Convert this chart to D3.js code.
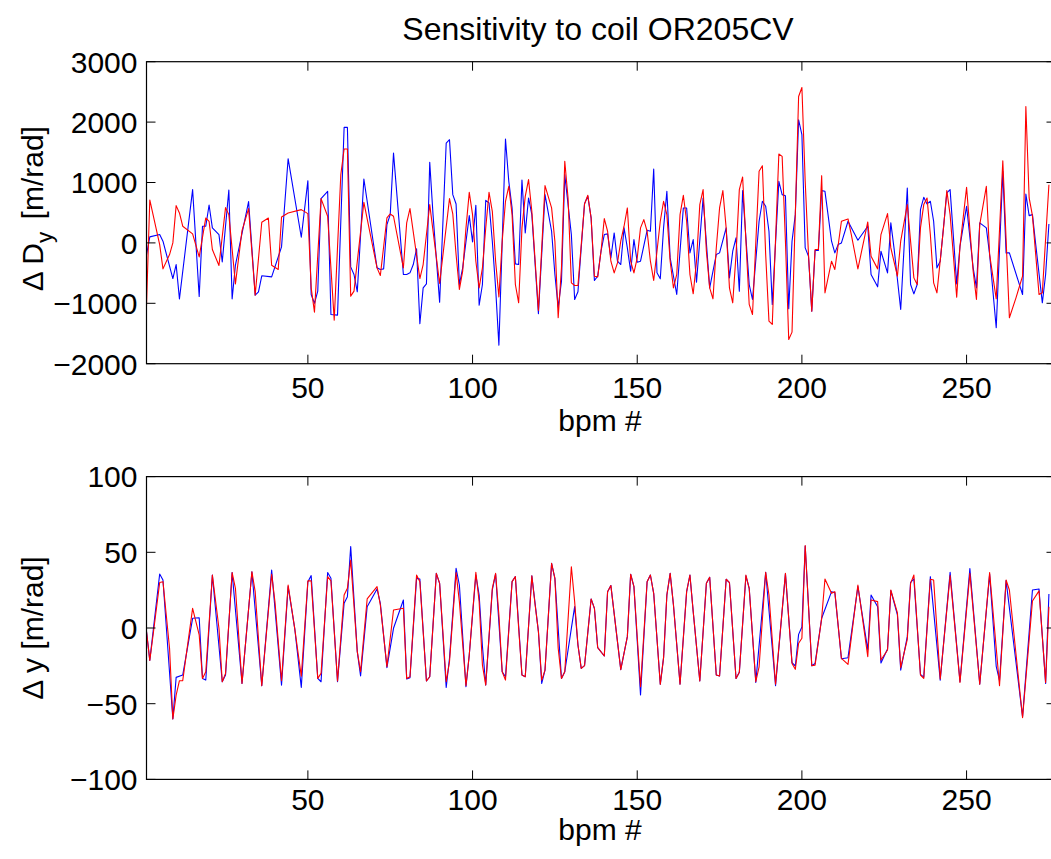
<!DOCTYPE html>
<html><head><meta charset="utf-8">
<script src="https://cdn.jsdelivr.net/npm/d3@7"></script>
<style>
body{margin:0;background:#fff;}
svg{display:block;}
text{font-family:"Liberation Sans",Arial,Helvetica,sans-serif;fill:#000;}
</style>
</head><body>
<script>
const titleText = "Sensitivity to coil OR205CV";
const xLabel = "bpm #";
const xTicks = [50,100,150,200,250];
const topYTicks = [-2000,-1000,0,1000,2000,3000];
const botYTicks = [-100,-50,0,50,100];

// Top panel: Delta D_y [m/rad], vertices [bpm, value]
const topBlue = [[1,-200],[2,100],[5,138],[6,28],[9,-590],[10,-358],[11,-926],[15,882],[17,-887],[18,276],[19,276],[20,628],[21,248],[23,138],[24,-314],[26,876],[27,-926],[28,-369],[32,683],[34,-865],[35,-810],[36,-545],[39,-562],[42,-66],[44,1394],[48,94],[50,1030],[51,-854],[52,-1000],[53,-800],[54,733],[56,854],[57,-1185],[59,-1196],[61,1912],[62,1912],[63,-397],[64,-523],[65,-810],[67,1058],[71,-413],[72,-440],[73,-430],[74,303],[75,468],[76,1488],[79,-523],[80,-523],[81,-496],[82,-358],[83,-99],[84,-1339],[85,-744],[86,-678],[87,1333],[88,468],[90,-981],[92,1653],[93,1708],[94,799],[95,645],[96,-689],[97,-413],[99,452],[100,17],[101,623],[102,-1030],[103,-689],[104,705],[105,661],[106,28],[107,-744],[108,-1692],[110,1719],[111,1019],[112,579],[113,-347],[114,-358],[115,1041],[116,165],[117,744],[118,468],[120,-1174],[122,799],[124,193],[125,-523],[126,-1063],[127,-634],[128,1130],[130,138],[131,-937],[132,-810],[134,650],[135,771],[136,413],[137,-623],[138,-551],[139,-138],[140,138],[141,149],[142,-248],[143,165],[144,-303],[145,-358],[146,248],[147,-83],[148,-468],[149,55],[150,-320],[151,-303],[153,209],[154,193],[155,1223],[156,-496],[157,-595],[158,248],[159,854],[160,-248],[162,-854],[164,579],[165,579],[166,-165],[167,55],[168,-650],[170,744],[172,-744],[174,-193],[175,-165],[177,248],[178,-579],[179,-138],[180,83],[181,-799],[182,865],[184,-689],[185,-937],[187,358],[188,689],[189,606],[190,193],[191,-1019],[193,1019],[194,799],[195,782],[196,-1091],[197,28],[198,468],[199,2039],[200,1791],[201,-83],[202,-220],[203,-1130],[204,-127],[205,-127],[206,865],[207,854],[209,28],[210,-165],[211,-28],[212,0],[214,358],[217,44],[220,276],[221,-523],[223,-727],[224,-138],[226,-496],[227,331],[228,-100],[230,-1102],[232,909],[233,-689],[234,-843],[235,-689],[236,551],[237,755],[238,645],[239,689],[240,358],[241,-413],[242,-303],[244,827],[245,882],[247,-678],[248,-55],[250,606],[252,-413],[253,-744],[254,331],[256,248],[257,-193],[259,-1405],[261,1185],[262,-165],[263,-165],[267,-854],[268,810],[269,452],[270,468],[271,-28],[273,-992],[274,-523],[275,314]];

const topRed = [[1,-1047],[2,711],[5,-28],[6,-430],[8,-193],[9,0],[10,617],[11,496],[12,276],[15,149],[17,-231],[19,413],[20,358],[21,-110],[23,-375],[25,584],[26,468],[28,-678],[30,204],[32,568],[34,-865],[36,342],[38,413],[39,-369],[41,-441],[42,430],[44,496],[48,551],[50,485],[51,-744],[52,-1146],[54,733],[56,441],[58,-1278],[60,1130],[61,1554],[62,1554],[63,-882],[64,-799],[67,672],[71,-413],[72,-540],[74,413],[75,479],[76,441],[79,-413],[80,331],[81,568],[84,-590],[85,-358],[87,634],[90,-672],[93,733],[94,479],[95,-193],[96,-771],[97,-468],[98,248],[99,837],[100,468],[101,-303],[102,-744],[103,-413],[104,248],[105,837],[106,523],[107,-303],[108,-893],[109,28],[110,689],[111,937],[112,468],[113,-689],[114,-992],[115,248],[116,771],[117,1047],[118,523],[120,-1119],[122,948],[124,579],[125,28],[126,-1240],[127,-413],[128,1350],[129,744],[130,-661],[131,-705],[132,-705],[134,645],[135,788],[136,413],[137,-551],[138,-563],[139,-138],[140,402],[141,193],[142,-303],[143,-496],[144,-331],[145,28],[146,276],[147,579],[148,-303],[149,-496],[150,-248],[151,248],[152,386],[153,193],[154,-303],[155,-623],[156,-138],[157,358],[158,689],[159,468],[160,-303],[161,-744],[162,-523],[163,468],[164,788],[165,358],[166,-523],[167,-843],[168,-303],[169,634],[170,882],[171,-138],[172,-744],[173,-926],[174,-83],[175,579],[176,865],[177,248],[178,-744],[179,-992],[180,-193],[181,882],[182,1091],[184,-1019],[185,-1185],[187,1185],[188,1278],[189,-193],[190,-1295],[191,-1350],[193,1471],[194,1433],[195,28],[196,-1598],[197,-1477],[199,2424],[200,2573],[201,1019],[202,-193],[203,-1130],[204,-110],[205,-110],[206,1113],[207,-827],[209,-303],[210,-441],[212,358],[214,397],[215,138],[217,-430],[220,347],[221,-220],[223,-430],[224,138],[226,485],[227,-83],[229,-551],[230,28],[232,634],[234,-579],[235,-689],[236,248],[237,634],[238,744],[239,138],[240,-661],[241,-827],[243,248],[244,865],[245,468],[247,-898],[248,-55],[250,920],[252,-468],[253,-937],[254,303],[256,937],[257,-193],[259,-926],[261,1361],[263,-1240],[265,-909],[267,-551],[268,2259],[269,744],[270,452],[272,-854],[273,-827],[275,964]];

// Bottom panel: Delta y [m/rad], vertices [bpm, value]
const botBlue = [[1,-2.4],[2,-21.4],[5,35.7],[6,31.7],[9,-60.1],[10,-32.6],[12,-31.1],[15,6.4],[17,6.8],[18,-33.3],[19,-34.4],[21,35],[24,-35.5],[25,-31.1],[27,36.6],[30,-36.6],[33,37.2],[36,-38.1],[39,38.3],[42,-37.7],[44,27.3],[46,-0.2],[48,-39.2],[50,30.6],[51,34.6],[53,-33.3],[54,-35.5],[56,36.6],[57,32.8],[59,-35.5],[61,16.3],[62,20.7],[63,53.8],[65,-15.6],[66,-31.7],[68,14.1],[71,25.8],[72,16.3],[74,-26.2],[76,-0.2],[79,18.5],[80,-33.7],[81,-32.8],[83,32.8],[84,32.4],[86,-35],[87,-32.2],[89,36.1],[90,29.5],[92,-39.2],[93,-20],[95,39.4],[96,28.4],[98,-38.8],[99,-17.8],[101,35],[102,21.8],[103,-12],[104,-37.7],[106,25.1],[107,35.7],[109,-28.9],[110,-32.2],[112,30.6],[113,33.9],[115,-31.1],[116,-32.2],[118,34.4],[120,-2.4],[121,-36.6],[122,-27.8],[124,42.7],[125,32.8],[127,-33.3],[128,-28.9],[131,14.1],[132,-11.2],[133,-26.7],[134,-24.9],[136,19.2],[137,13],[138,-13],[140,-18.5],[141,24],[142,28],[145,-27.5],[147,-5.7],[148,35.5],[149,27.3],[151,-44.3],[153,30.6],[154,35],[155,22.9],[157,-37.2],[158,-19.6],[159,21.8],[160,36.1],[161,15.2],[163,-37.2],[165,24],[166,35],[167,10.8],[169,-35],[171,29.5],[172,33.5],[174,-31.1],[175,-31.7],[177,32.2],[178,30],[180,-33.3],[181,-29.3],[183,34.4],[184,26.2],[186,-35.9],[189,36.8],[192,-38.1],[195,35.9],[197,-22.9],[198,-25.1],[199,-4.2],[200,0.7],[201,54.2],[203,-24.9],[204,-23.4],[206,6.4],[209,24],[210,23.4],[212,-20.3],[214,-19.6],[217,27.3],[220,-14.5],[221,21.8],[223,14.1],[224,-23.1],[226,-13.9],[227,24.7],[229,8.6],[230,-27.8],[232,-5.7],[233,30.2],[234,32.4],[236,-30.6],[237,-32.4],[239,33.9],[242,-34.4],[245,36.8],[248,-35.5],[251,39.2],[254,-37.2],[257,35.5],[259,-25.3],[260,-34.8],[262,31.3],[267,-58.6],[270,25.1],[272,25.8],[274,-36.6],[275,22.5]];

const botRed = [[1,-2.4],[2,-21.4],[3,-4.6],[5,30],[6,30.6],[7,8.6],[8,-13.4],[9,-60.1],[10,-44.3],[11,-34.8],[12,-34.8],[15,13],[16,4.2],[17,-4.6],[18,-33.3],[19,-28.9],[21,35],[23,-0.2],[24,-35.5],[25,-30],[27,36.6],[28,26.2],[30,-36.6],[33,37.2],[34,24],[36,-38.1],[39,35.5],[40,17.4],[42,-34.8],[44,28.4],[46,-0.2],[48,-31.9],[50,31.1],[51,31.1],[53,-33.3],[54,-30],[56,33.9],[57,31.1],[59,-35],[61,21.8],[62,26.2],[63,44.9],[65,-15.6],[66,-28.9],[68,19.2],[71,27.3],[72,15.2],[74,-25.6],[76,11.9],[79,13],[80,-33.3],[81,-32.2],[83,35],[84,30.6],[86,-35],[87,-32.2],[89,36.1],[90,29.5],[92,-35.5],[93,-22.3],[95,36.6],[96,17.4],[98,-38.1],[99,-17.8],[101,36.8],[102,17.4],[103,-24.5],[104,-37.7],[106,26.2],[107,36.1],[108,8.6],[109,-28.9],[110,-34.4],[112,30.6],[113,33.9],[114,-0.2],[115,-31.1],[116,-32.2],[118,34.4],[119,15.2],[120,-2.4],[121,-34.4],[122,-27.8],[124,42.7],[125,32.8],[126,-13.4],[127,-33.3],[128,-28.9],[130,40.5],[131,17.4],[132,-11.2],[133,-26.7],[134,-24.9],[136,19.2],[137,13],[138,-13],[140,-18.5],[141,24],[142,28],[145,-27.5],[147,-5.7],[148,35.5],[149,27.3],[151,-38.8],[153,30.6],[154,35],[155,22.9],[157,-37.2],[158,-19.6],[159,21.8],[160,36.1],[161,15.2],[163,-37.2],[165,24],[166,35],[167,10.8],[169,-35],[171,29.5],[172,33.5],[174,-31.1],[175,-31.7],[177,32.2],[178,30],[180,-33.3],[181,-29.3],[183,35],[184,26.2],[186,-35.5],[187,-25.6],[189,36.8],[190,21.8],[192,-37.2],[195,36.1],[197,-23.4],[198,-27.3],[199,-10.1],[200,-6.8],[201,54.4],[203,-24.9],[204,-24.5],[206,6.4],[207,32.4],[209,22.9],[210,24],[212,-20],[214,-24],[217,28.4],[220,-18.9],[221,18.5],[223,17.4],[224,-21.1],[226,-14.5],[227,25.1],[229,10],[230,-26.2],[231,-16.7],[232,-7.5],[233,29.5],[234,35],[236,-31.1],[237,-33.3],[239,32.2],[240,31.7],[242,-33.7],[245,34.6],[248,-35.9],[251,36.1],[254,-37.2],[257,36.6],[260,-38.1],[262,31.7],[263,25.1],[267,-59.3],[270,17.8],[272,24.5],[274,-35.9],[275,14.1]];

const W = 1051, H = 859;
const FS = 30;
const svg = d3.select("body").append("svg").attr("width", W).attr("height", H);

const x = d3.scaleLinear().domain([1, 277]).range([146.5, 1055.5]);

const panels = [
  {y0: 61.7, y1: 363.7, domain: [-2000, 3000], ticks: topYTicks, blue: topBlue, red: topRed, ylab: "top", tickBase: 398, labBase: 431},
  {y0: 476.6, y1: 779.4, domain: [-100, 100], ticks: botYTicks, blue: botBlue, red: botRed, ylab: "bot", tickBase: 810, labBase: 840}
];

const fmt = v => (v < 0 ? "\u2212" + Math.abs(v) : String(v));
const TL = 9;

panels.forEach((p, i) => {
  const y = d3.scaleLinear().domain(p.domain).range([p.y1, p.y0]);
  const g = svg.append("g");
  const cid = "clip" + i;
  svg.append("clipPath").attr("id", cid).append("rect")
    .attr("x", x.range()[0]).attr("y", p.y0).attr("width", x.range()[1] - x.range()[0]).attr("height", p.y1 - p.y0);

  const line = d3.line().x(d => x(d[0])).y(d => y(d[1]));
  const lg = g.append("g").attr("clip-path", `url(#${cid})`);
  lg.append("path").datum(p.blue).attr("d", line).attr("fill", "none").attr("stroke", "#0000ff").attr("stroke-width", 1.1).attr("stroke-linejoin", "round");
  lg.append("path").datum(p.red).attr("d", line).attr("fill", "none").attr("stroke", "#ff0000").attr("stroke-width", 1.1).attr("stroke-linejoin", "round");

  const [xl, xr] = x.range();
  g.append("rect").attr("x", xl).attr("y", p.y0).attr("width", xr - xl).attr("height", p.y1 - p.y0)
    .attr("fill", "none").attr("stroke", "#000").attr("stroke-width", 1.2);

  xTicks.forEach(t => {
    const xx = x(t);
    g.append("line").attr("x1", xx).attr("x2", xx).attr("y1", p.y1).attr("y2", p.y1 - TL).attr("stroke", "#000");
    g.append("line").attr("x1", xx).attr("x2", xx).attr("y1", p.y0).attr("y2", p.y0 + TL).attr("stroke", "#000");
    g.append("text").attr("x", xx).attr("y", p.tickBase).attr("text-anchor", "middle").attr("font-size", FS).text(fmt(t));
  });
  p.ticks.forEach(t => {
    const yy = y(t);
    g.append("line").attr("x1", xl).attr("x2", xl + TL).attr("y1", yy).attr("y2", yy).attr("stroke", "#000");
    g.append("line").attr("x1", xr).attr("x2", xr - TL).attr("y1", yy).attr("y2", yy).attr("stroke", "#000");
    g.append("text").attr("x", xl - 9).attr("y", yy + FS * 0.36).attr("text-anchor", "end").attr("font-size", FS).text(fmt(t));
  });

  g.append("text").attr("x", 600).attr("y", p.labBase).attr("text-anchor", "middle").attr("font-size", FS).text(xLabel);

  const cy = (p.y0 + p.y1) / 2 - (p.ylab === "top" ? 4 : 0);
  const yl = g.append("text").attr("transform", `translate(43,${cy}) rotate(-90)`).attr("text-anchor", "middle").attr("font-size", FS);
  if (p.ylab === "top") {
    yl.append("tspan").text("\u0394 D");
    yl.append("tspan").attr("dy", 9).attr("font-size", FS * 0.75).text("y");
    yl.append("tspan").attr("dy", -9).attr("dx", 4).text(" [m/rad]");
  } else {
    yl.text("\u0394 y [m/rad]");
  }
});

svg.append("text").attr("x", 598).attr("y", 40).attr("text-anchor", "middle").attr("font-size", 32).text(titleText);
</script>
</body></html>
